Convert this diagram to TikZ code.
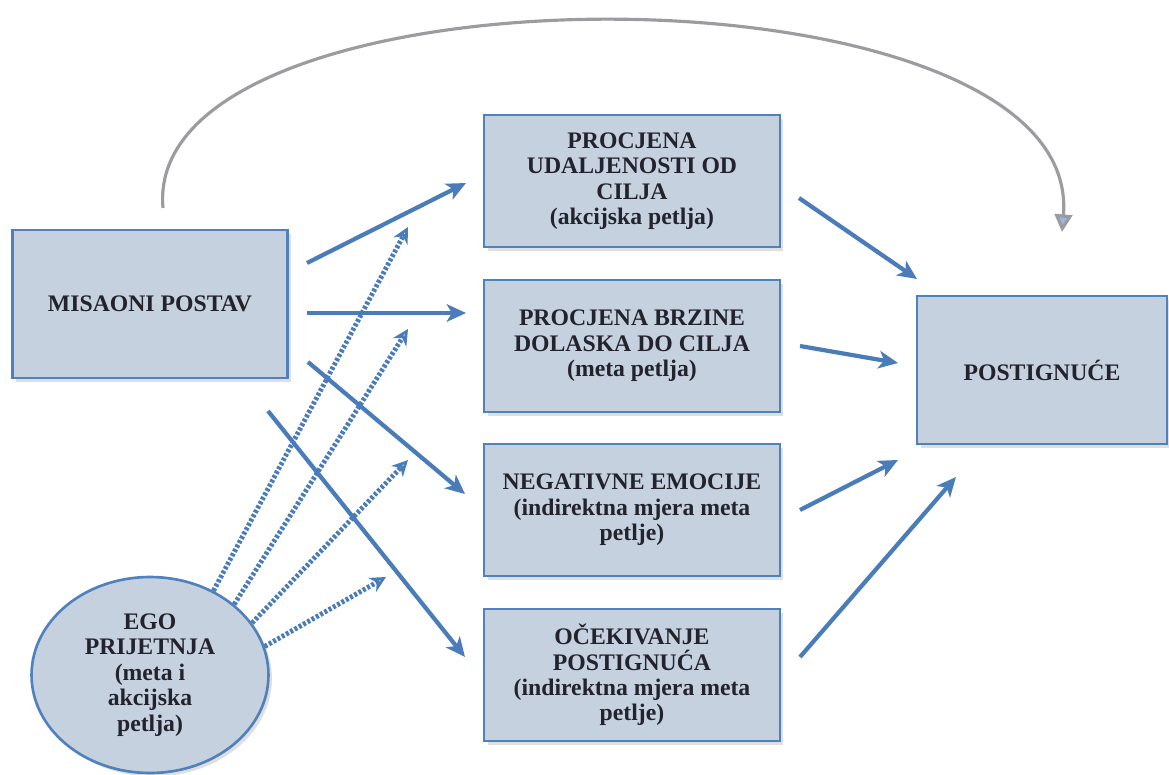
\documentclass[tikz,border=0pt]{standalone}
\usepackage{fontspec}
\setmainfont{Liberation Serif}
\usetikzlibrary{arrows.meta,shadows,shapes.geometric}
\definecolor{boxfill}{RGB}{198,209,224}
\definecolor{boxline}{RGB}{79,129,189}
\definecolor{arrowblue}{RGB}{74,124,186}
\definecolor{arcgray}{RGB}{155,155,160}
\definecolor{arctip}{RGB}{150,185,228}
\definecolor{tekst}{RGB}{35,35,45}
\tikzset{
  pojam/.style={draw=boxline, line width=1.5pt, fill=boxfill, align=center, text=tekst,
    font=\fontsize{13.5}{14.5}\selectfont\bfseries,
    drop shadow={opacity=0.25, shadow xshift=2pt, shadow yshift=-2pt}},
  kutija/.style={pojam, minimum width=5.92cm, minimum height=2.64cm},
  veza/.style={arrowblue, line width=2.4pt, -{Stealth[length=11pt,width=10pt,inset=3pt]}},
  tocke/.style={arrowblue, line width=2.8pt, dash pattern=on 1.7pt off 1.1pt,
    -{Stealth[open,length=9pt,width=9pt,line width=1.6pt]}},
  luk/.style={arcgray, line width=1.8pt,
    -{Triangle[length=10pt,width=10pt,fill=arctip,color=arcgray]}}
}
\begin{document}
\begin{tikzpicture}[x=0.02cm,y=-0.02cm]
\useasboundingbox (0,0) rectangle (1169,774);
% pojmovi
\node[pojam, minimum width=5.5cm, minimum height=2.96cm] (misaoni) at (150,304) {MISAONI POSTAV};
\node[kutija] (udaljenost) at (632,181) {PROCJENA\\UDALJENOSTI OD\\CILJA\\(akcijska petlja)};
\node[kutija] (brzina) at (632,346) {PROCJENA BRZINE\\DOLASKA DO CILJA\\(meta petlja)};
\node[kutija] (emocije) at (632,510) {NEGATIVNE EMOCIJE\\(indirektna mjera meta\\petlje)};
\node[kutija] (ocekivanje) at (632,675) {OČEKIVANJE\\POSTIGNUĆA\\(indirektna mjera meta\\petlje)};
\node[pojam, minimum width=5cm, minimum height=2.96cm] (postignuce) at (1042,370) {POSTIGNUĆE};
\node[pojam, ellipse, inner sep=0pt, minimum width=4.74cm, minimum height=3.92cm] (ego) at (150,675)
  {EGO\\PRIJETNJA\\(meta i\\akcijska\\petlja)};
% slobodni krajevi strelica
\foreach \ime/\x/\y in {m1/307/263, u1/466/183, m2/307/313, b1/466/313, m3/308/362, n1/465/494,
  m4/268/411, o1/465/657, u2/799/198, p1/917/279, b2/800/346, p2/898/363,
  n2/800/510, p3/898/460, o2/800/657, p4/956/477,
  d1/408/227, d2/408/329, d3/408/460, d4/386/577, l1/163/208, l2/1062/232}
  \coordinate (\ime) at (\x,\y);
% veze
\foreach \a/\b in {m1/u1, m2/b1, m3/n1, m4/o1, u2/p1, b2/p2, n2/p3, o2/p4}
  \draw[veza] (\a) -- (\b);
\foreach \k/\d in {53/d1, 40/d2, 27/d3, 14/d4}
  \draw[tocke] (ego.\k) -- (\d);
\draw[luk] (l1) .. controls (140,-45) and (1085,-45) .. (l2);
\end{tikzpicture}
\end{document}
